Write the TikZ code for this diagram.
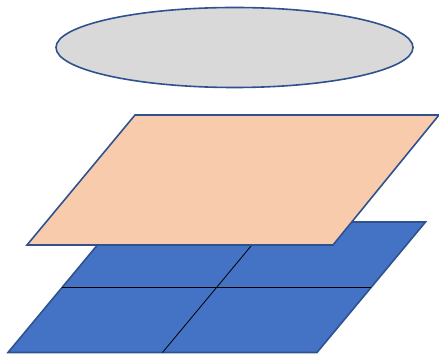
\documentclass[tikz,border=0pt]{standalone}
\usepackage{xcolor}
\usepackage{tikz}
\usetikzlibrary{shapes.geometric, calc}

\definecolor{edgeblue}{HTML}{2F528F}
\definecolor{topgray}{HTML}{D9D9D9}
\definecolor{midorange}{HTML}{F8CBAD}
\definecolor{gridblue}{HTML}{4472C4}

\begin{document}
\begin{tikzpicture}[
  x=1pt, y=-1pt,
  plane/.style={draw=edgeblue, line width=1.6pt, line join=miter},
  divider/.style={draw=black, line width=0.8pt}
]
\useasboundingbox (0,0) rectangle (439,355);
% bottom layer, split into four cells
\coordinate (bl) at (8,352.5);
\coordinate (br) at (317,352.5);
\coordinate (tr) at (425.5,222);
\coordinate (tl) at (116.5,222);
\path[plane, fill=gridblue] (bl) -- (br) -- (tr) -- (tl) -- cycle;
\draw[divider, line width=1pt] ($(bl)!0.5!(tl)$) -- ($(br)!0.5!(tr)$);
\draw[divider] ($(bl)!0.5!(br)$) -- ($(tl)!0.5!(tr)$);
% middle layer
\coordinate (obl) at (27,245);
\coordinate (obr) at (333,245);
\coordinate (otr) at (439,115);
\coordinate (otl) at (135,115);
\path[plane, fill=midorange] (obl) -- (obr) -- (otr) -- (otl) -- cycle;
% top layer
\node[ellipse, draw=edgeblue, line width=1.6pt, fill=topgray, inner sep=0pt,
      minimum width=357pt, minimum height=80pt] (top) at (234.5,47.5) {};
\end{tikzpicture}
\end{document}
